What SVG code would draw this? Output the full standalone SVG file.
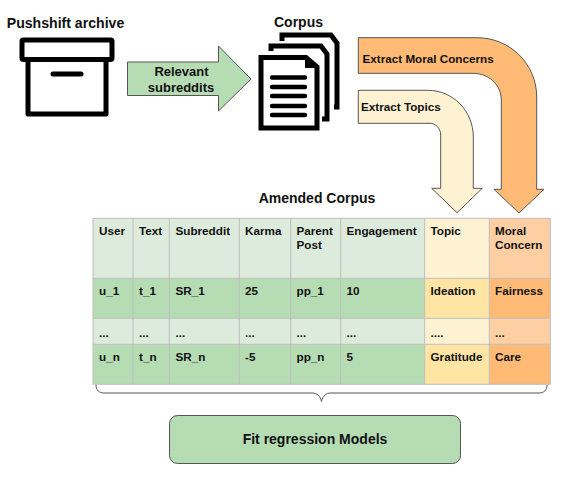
<svg xmlns="http://www.w3.org/2000/svg" width="578" height="479" viewBox="0 0 578 479">
<style>
text{font-family:"Liberation Sans",Arial,sans-serif;font-weight:700;fill:#111}
.t{font-size:11.7px}
.h{font-size:14px}
.k{fill:none;stroke:#000;stroke-width:5}
.l{fill:none;stroke:#000;stroke-width:4.4;stroke-linecap:round}
.a{stroke:#555;stroke-width:1}
.g{stroke:#bdbdbd;stroke-width:1}
.c1{fill:#dcebdb}.c2{fill:#b6dcb4}.y1{fill:#fff2d3}.y2{fill:#ffe5a3}.o1{fill:#fecfa3}.o2{fill:#ffbb75}
</style>
<rect width="578" height="479" fill="#fff"/>
<g id="archive">
<text x="65.500" y="28" text-anchor="middle" style="font-size:14.100px">Pushshift archive</text>
<rect x="22" y="40" width="90" height="19.500" rx="1.500" class="k" stroke-linejoin="round"/>
<path d="M28 60V114H106V60" class="k" stroke-linejoin="round"/>
<path d="M53 74H81" class="k" stroke-width="5.500" stroke-linecap="round"/>
</g>
<g id="corpus">
<text x="298.500" y="27" text-anchor="middle" class="h">Corpus</text>
<path d="M282 41V35H331L337 43V107H334" class="k"/>
<path d="M271 51V46H321L327 54V119H322" class="k"/>
<path d="M261 57.500H306L317 67V128H261Z" class="k"/>
<path d="M306 57.500V67H317" fill="#000" stroke="#000" stroke-width="2"/>
<path d="M272 77.500H305M272 87H305M272 96H305M272 106H305M272 115H305" class="l"/>
</g>
<g id="connectors">
<path id="relevant" class="a" fill="#b6dcb4" d="M127.500 62H218.500V46L251 79L218.500 111V95.500H127.500Z"/>
<path id="moral" class="a" fill="#ffbb75" d="M358.300 37.700H477C510 37.700 536.700 64 536.700 97V189.300H544L519 213L494 189.300H501.300V100C501.300 84 488 73.300 473 73.300H358.300Z"/>
<path id="topics" class="a" fill="#fff2d3" d="M358.300 90.300H428C453 90.300 473.300 111 473.300 137V188.300H482.300L457 212.700L431.700 188.300H440.700V135C440.700 128 435 123.300 430 123.300H358.300Z"/>
<path id="brace" fill="none" stroke="#555" stroke-width="1" d="M96 385C96 390 99 393 104 393H312C317 393 320.500 396 321.500 401.500C322.500 396 326 393 331 393H539C544 393 547 390 547 385"/>
</g>
<g id="labels">
<text x="181.500" y="76" text-anchor="middle" style="font-size:13px">Relevant</text>
<text x="181" y="92" text-anchor="middle" style="font-size:13px">subreddits</text>
<text x="362.500" y="63" style="font-size:11.700px">Extract Moral Concerns</text>
<text x="361" y="111" style="font-size:11.700px">Extract Topics</text>
</g>
<g id="table">
<text x="317" y="203" text-anchor="middle" class="h">Amended Corpus</text>
<rect class="c1" x="93" y="218.300" width="331.700" height="60"/>
<rect class="c2" x="93" y="278.300" width="331.700" height="40"/>
<rect class="c1" x="93" y="318.300" width="331.700" height="26"/>
<rect class="c2" x="93" y="344.300" width="331.700" height="40"/>
<rect class="y1" x="424.700" y="218.300" width="64.600" height="60"/>
<rect class="y2" x="424.700" y="278.300" width="64.600" height="40"/>
<rect class="y1" x="424.700" y="318.300" width="64.600" height="26"/>
<rect class="y2" x="424.700" y="344.300" width="64.600" height="40"/>
<rect class="o1" x="489.300" y="218.300" width="61" height="60"/>
<rect class="o2" x="489.300" y="278.300" width="61" height="40"/>
<rect class="o1" x="489.300" y="318.300" width="61" height="26"/>
<rect class="o2" x="489.300" y="344.300" width="61" height="40"/>
<path class="g" fill="none" d="M93 218.300H550.300V384.300H93ZM93 278.300H550.300M93 318.300H550.300M93 344.300H550.300M133 218.300V384.300M169.300 218.300V384.300M239.300 218.300V384.300M290.700 218.300V384.300M340.700 218.300V384.300M424.700 218.300V384.300M489.300 218.300V384.300"/>
<g class="t">
<text x="99" y="235">User</text><text x="139" y="235">Text</text><text x="175.500" y="235">Subreddit</text><text x="245" y="235">Karma</text><text x="296.500" y="235">Parent</text><text x="296.500" y="249">Post</text><text x="346.500" y="235">Engagement</text><text x="430.500" y="235">Topic</text><text x="495" y="235">Moral</text><text x="495" y="249">Concern</text>
<text x="99" y="295">u_1</text><text x="139" y="295">t_1</text><text x="175.500" y="295">SR_1</text><text x="245" y="295">25</text><text x="296.500" y="295">pp_1</text><text x="346.500" y="295">10</text><text x="430.500" y="295">Ideation</text><text x="495" y="295">Fairness</text>
<text x="99" y="337">...</text><text x="139" y="337">...</text><text x="175.500" y="337">...</text><text x="245" y="337">...</text><text x="296.500" y="337">...</text><text x="346.500" y="337">...</text><text x="430.500" y="337">....</text><text x="495" y="337">...</text>
<text x="99" y="361">u_n</text><text x="139" y="361">t_n</text><text x="175.500" y="361">SR_n</text><text x="245" y="361">-5</text><text x="296.500" y="361">pp_n</text><text x="346.500" y="361">5</text><text x="430.500" y="361">Gratitude</text><text x="495" y="361">Care</text>
</g>
</g>
<g id="regression">
<rect x="169.500" y="415.500" width="291" height="48" rx="8" fill="#b6dcb4" stroke="#555"/>
<text x="315" y="444" text-anchor="middle" style="font-size:14px">Fit regression Models</text>
</g>
</svg>
